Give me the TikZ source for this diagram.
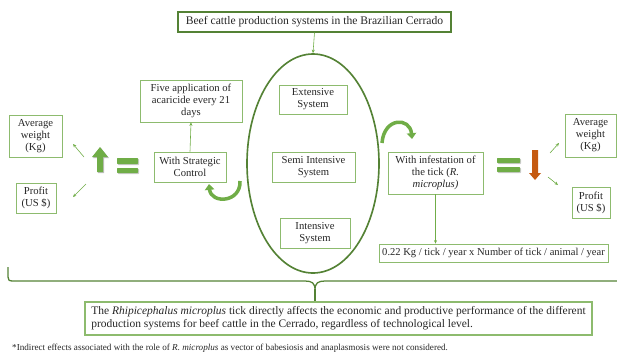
\documentclass[tikz,border=0pt]{standalone}
\usepackage{fontspec}
\setmainfont{Liberation Serif}
\usetikzlibrary{arrows.meta,shapes.geometric}
\definecolor{boxgreen}{HTML}{8DBB6E}
\definecolor{darkgreen}{HTML}{548235}
\definecolor{arrowgreen}{HTML}{70AD47}
\definecolor{droporange}{HTML}{C55A11}
\definecolor{textgray}{HTML}{262626}

\begin{document}
\begin{tikzpicture}[x=0.03cm, y=-0.03cm, >=Stealth,
  every node/.style={align=center, text=textgray},
  sbox/.style={draw=boxgreen, line width=0.6pt, inner sep=1pt,
               font=\fontsize{9.1}{10.3}\selectfont},
  thin/.style={->, draw=arrowgreen, line width=0.5pt,
               arrows={-Stealth[length=3pt, width=2.6pt]}},
  bigarc/.style={draw=arrowgreen, line width=3pt,
                 arrows={-Triangle[length=5pt, width=8pt]}},
  bar/.style={fill=arrowgreen, rounded corners=0.6pt}]

%%=== COORDINATE PLAN (px of a 617 x 353 frame, y downwards) =========
%%  Title box centre (314,22);  ellipse centre (313,163), rx=66 ry=110
%%  Left column: 35 | 100 | 128 | 190 ;  right column: 435 | 509 | 536 | 591
%%  Brace line y=281, tip (315,300);  statement box centre (338,318)
%%====================================================================
\useasboundingbox (0,0) rectangle (617,353);

%% --- Title and central ellipse -------------------------------------
\node[draw=darkgreen, line width=1.1pt, inner sep=1pt,
      minimum width=8.19cm, minimum height=0.6cm,
      font=\fontsize{9.9}{11}\selectfont]
  (title) at (314.5,22) {Beef cattle production systems in the Brazilian Cerrado};

\node[ellipse, draw=darkgreen, line width=1.4pt, inner sep=0pt,
      minimum width=3.96cm, minimum height=6.57cm]
  (sys) at (313,163.5) {};

\node[sbox, minimum width=2.04cm, minimum height=0.87cm]
  (ext) at (313,99.5) {Extensive\\System};
\node[sbox, minimum width=2.49cm, minimum height=0.9cm]
  (semi) at (313.5,167) {Semi Intensive\\System};
\node[sbox, minimum width=2.1cm, minimum height=0.9cm]
  (int) at (315,233) {Intensive\\System};

\draw[thin] (title.south) -- (sys.north);

%% --- Left side: strategic control ----------------------------------
\node[sbox, minimum width=3.06cm, minimum height=1.26cm]
  (five) at (191,101) {Five application of\\acaricide every 21\\days};
\node[sbox, minimum width=2.16cm, minimum height=0.9cm]
  (strat) at (190,167) {With Strategic\\Control};
\node[sbox, minimum width=1.59cm, minimum height=1.26cm]
  (avgL) at (35.5,136) {Average\\weight\\(Kg)};
\node[sbox, minimum width=1.2cm, minimum height=0.9cm]
  (profL) at (36,198) {Profit\\(US \$)};

\draw[thin] (strat.north) -- (five.south);

%% up arrow and equals sign
\fill[black!25] (101,148) -- (109,158) -- (104,158) -- (104,173)
  -- (98,173) -- (98,158) -- (93,158) -- cycle;
\fill[arrowgreen] (100,147) -- (108,157) -- (103,157) -- (103,172)
  -- (97,172) -- (97,157) -- (92,157) -- cycle;
\fill[black!20, rounded corners=0.6pt] (118,159) rectangle (139,165);
\fill[black!20, rounded corners=0.6pt] (118,169) rectangle (139,174);
\fill[bar] (117,158) rectangle (138,164);
\fill[bar] (117,168) rectangle (138,173);

\coordinate (upL) at (84,157);
\coordinate (upLtip) at (73,144);
\coordinate (dnL) at (86,184);
\coordinate (dnLtip) at (73,197);
\draw[thin] (upL) -- (upLtip);
\draw[thin] (dnL) -- (dnLtip);

%% curved arrow under the strategic box
\coordinate (arcL) at (240,181);
\coordinate (arcLend) at (209,184);
\draw[bigarc] (arcL) .. controls (241,203) and (211,204) .. (arcLend);

%% --- Right side: tick infestation ----------------------------------
\node[sbox, minimum width=2.85cm, minimum height=1.26cm]
  (inf) at (435.5,173) {With infestation of\\the tick (\textit{R.}\\\textit{microplus)}};
\node[sbox, minimum width=6.87cm, minimum height=0.54cm,
      font=\fontsize{9}{10}\selectfont]
  (kg) at (493.5,253) {0.22 Kg / tick / year x Number of tick / animal / year};
\node[sbox, minimum width=1.53cm, minimum height=1.29cm]
  (avgR) at (590.5,135.5) {Average\\weight\\(Kg)};
\node[sbox, minimum width=1.14cm, minimum height=0.93cm]
  (profR) at (591,202.5) {Profit\\(US \$)};

\draw[thin] (inf.south) -- (inf.south |- kg.north);

%% curved arrow over the infestation box
\coordinate (arcR) at (382,143);
\coordinate (arcRend) at (412,139);
\draw[bigarc] (arcR) .. controls (384,117) and (410,117) .. (arcRend);

%% equals sign and down arrow
\fill[black!20, rounded corners=0.6pt] (498,159) rectangle (521,164);
\fill[black!20, rounded corners=0.6pt] (498,168) rectangle (521,173);
\fill[bar] (497,158) rectangle (520,163);
\fill[bar] (497,167) rectangle (520,172);
\fill[droporange] (532,150) -- (538,150) -- (538,173) -- (541,173)
  -- (535,180) -- (529,173) -- (532,173) -- cycle;

\coordinate (upR) at (550,153);
\coordinate (upRtip) at (559,143);
\coordinate (dnR) at (548,177);
\coordinate (dnRtip) at (558,185);
\draw[thin] (upR) -- (upRtip);
\draw[thin] (dnR) -- (dnRtip);

%% --- Brace and statement -------------------------------------------
\node[draw=boxgreen, line width=0.9pt, inner sep=1pt,
      minimum width=15.21cm, minimum height=0.99cm, align=left,
      font=\fontsize{9.8}{11.1}\selectfont]
  (stmt) at (338.5,318.5)
  {The \textit{Rhipicephalus microplus} tick directly affects the economic and productive performance of the different\\
   production systems for beef cattle in the Cerrado, regardless of technological level.};

\coordinate (braceL) at (8,267);
\coordinate (braceR) at (617,281);
\draw[darkgreen, line width=1.1pt]
  (braceL) -- (8,277) .. controls (8,280) and (9,281) .. (13,281)
  -- (305,281) .. controls (312,281) and (315,283) .. (315,290)
  .. controls (315,283) and (318,281) .. (325,281) -- (braceR);
\draw[darkgreen, line width=1.1pt] (315,289) -- (stmt.north -| 315,0);

%% --- Footnote ------------------------------------------------------
\node[anchor=west, inner sep=0pt, font=\fontsize{7.8}{9}\selectfont]
  (note) at (12,348)
  {*Indirect effects associated with the role of \textit{R. microplus} as vector of babesiosis and anaplasmosis were not considered.};

\end{tikzpicture}
\end{document}
